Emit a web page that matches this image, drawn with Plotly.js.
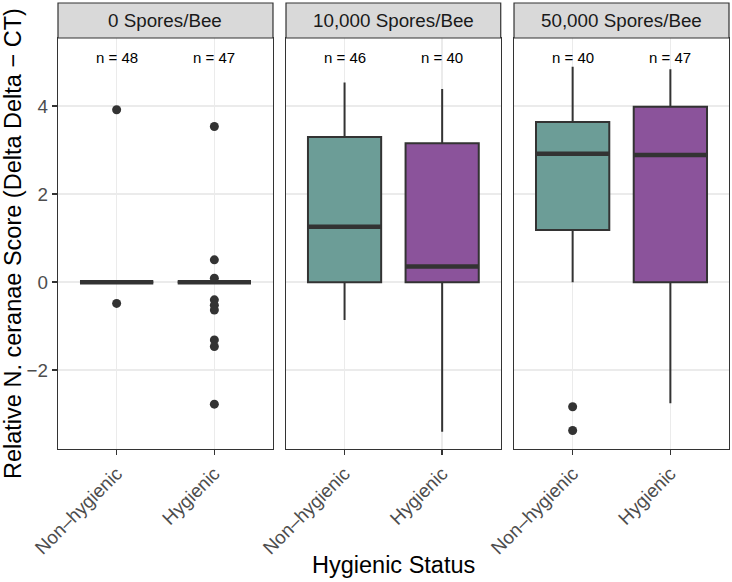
<!DOCTYPE html>
<html>
<head>
<meta charset="utf-8">
<script src="https://cdn.plot.ly/plotly-3.0.1.min.js"></script>
<style>
  html, body { margin: 0; padding: 0; background: #ffffff; }
  #chart { width: 732px; height: 582px; }
</style>
</head>
<body>
<div id="chart"></div>
<script>
// Facet labels (spore dose) and x categories (hygienic status)
const doses = ['0 Spores/Bee', '10,000 Spores/Bee', '50,000 Spores/Bee'];
const statuses = ['Non\u2013hygienic', 'Hygienic'];
const statusPos = [1, 2];

// Box summary statistics per facet, in [Non-hygienic, Hygienic] order
const q1 = [[0, 0], [0, 0], [1.19, 0]];
const medians = [[0, 0], [1.26, 0.36], [2.92, 2.89]];
const q3 = [[0, 0], [3.30, 3.16], [3.64, 3.99]];
const lowerWhisker = [[0, 0], [-0.86, -3.40], [0, -2.75]];
const upperWhisker = [[0, 0], [4.54, 4.39], [4.90, 4.84]];

// Outlying observations per facet and status
const outliers = [
  [[3.92, -0.48], [3.54, 0.51, 0.09, -0.40, -0.52, -0.63, -1.31, -1.46, -2.77]],
  [[], []],
  [[-2.83, -3.37], []]
];

// Sample sizes shown above each box
const sampleSizes = [[48, 47], [46, 40], [40, 47]];

const fills = ['#6C9D97', '#8B539B'];
const ink = '#333333';
const font = 'Liberation Sans, Arial, Helvetica, sans-serif';
const boxWidth = 0.75;
const labelY = 5.1;
const yRange = [-3.79, 5.552];

const domains = [[0, 0.3204], [0.3398, 0.6598], [0.6796, 1]];

const traces = [];
const annotations = [];
const shapes = [];
const layout = {
  width: 732, height: 582,
  margin: {l: 58, r: 3, t: 38, b: 133},
  paper_bgcolor: '#ffffff', plot_bgcolor: '#ffffff',
  showlegend: false,
  font: {family: font, color: '#4D4D4D'}
};

doses.forEach((dose, p) => {
  const sfx = p === 0 ? '' : String(p + 1);
  const xa = 'x' + sfx, ya = 'y' + sfx;

  layout['xaxis' + sfx] = {
    domain: domains[p], anchor: ya, range: [0.4, 2.6],
    tickmode: 'array', tickvals: statusPos, ticktext: statuses,
    tickangle: -45, ticks: 'outside', ticklen: 5, tickwidth: 1.6, tickcolor: ink,
    tickfont: {size: 18.8, color: '#4D4D4D', family: font},
    showgrid: true, gridcolor: '#EBEBEB', gridwidth: 1.6, zeroline: false,
    showline: true, mirror: true, linecolor: ink, linewidth: 1.2,
    fixedrange: true
  };
  layout['yaxis' + sfx] = {
    domain: [0, 1], anchor: xa, range: yRange,
    tickmode: 'array', tickvals: [-2, 0, 2, 4],
    ticks: p === 0 ? 'outside' : '', ticklen: 5, tickwidth: 1.6, tickcolor: ink,
    showticklabels: p === 0,
    tickfont: {size: 18.8, color: '#4D4D4D', family: font},
    showgrid: true, gridcolor: '#EBEBEB', gridwidth: 1.6, zeroline: false,
    showline: true, mirror: true, linecolor: ink, linewidth: 1.2,
    fixedrange: true
  };

  statusPos.forEach((pos, s) => {
    // box with whiskers
    traces.push({
      type: 'box', xaxis: xa, yaxis: ya,
      x: [pos], q1: [q1[p][s]], median: [medians[p][s]], q3: [q3[p][s]],
      lowerfence: [lowerWhisker[p][s]], upperfence: [upperWhisker[p][s]],
      width: boxWidth, whiskerwidth: 0, boxpoints: false,
      fillcolor: fills[s], line: {color: ink, width: 2},
      hoverinfo: 'skip'
    });
    // heavier median bar
    traces.push({
      type: 'scatter', mode: 'lines', xaxis: xa, yaxis: ya,
      x: [pos - boxWidth / 2, pos + boxWidth / 2],
      y: [medians[p][s], medians[p][s]],
      line: {color: ink, width: 4.5}, hoverinfo: 'skip'
    });
    // outliers
    if (outliers[p][s].length) {
      traces.push({
        type: 'scatter', mode: 'markers', xaxis: xa, yaxis: ya,
        x: outliers[p][s].map(() => pos), y: outliers[p][s],
        marker: {color: ink, size: 9}, hoverinfo: 'skip'
      });
    }
    // sample size label
    annotations.push({
      xref: xa, yref: ya, x: pos, y: labelY,
      text: 'n = ' + sampleSizes[p][s], showarrow: false,
      xanchor: 'center', yanchor: 'middle',
      font: {size: 15, color: '#000000', family: font}
    });
  });

  // facet strip
  shapes.push({
    type: 'rect', xref: xa + ' domain', yref: 'paper',
    x0: 0, x1: 1, y0: 1, y1: 1 + 35 / 411,
    fillcolor: '#D9D9D9', line: {color: ink, width: 1.2}, layer: 'above'
  });
  annotations.push({
    xref: xa + ' domain', yref: 'paper', x: 0.5, y: 1 + 17.5 / 411,
    text: dose, showarrow: false, xanchor: 'center', yanchor: 'middle',
    font: {size: 18.8, color: '#1A1A1A', family: font}
  });
});

// axis titles
annotations.push({
  xref: 'paper', yref: 'paper', x: 0, y: 0.5, xshift: -45.5,
  text: 'Relative N. ceranae Score (Delta Delta \u2212 CT)', textangle: -90,
  showarrow: false, xanchor: 'center', yanchor: 'middle',
  font: {size: 23.5, color: '#000000', family: font}
});
annotations.push({
  xref: 'x2 domain', yref: 'paper', x: 0.5, y: 0, yshift: -116,
  text: 'Hygienic Status', showarrow: false, xanchor: 'center', yanchor: 'middle',
  font: {size: 23.5, color: '#000000', family: font}
});

layout.shapes = shapes;
layout.annotations = annotations;

Plotly.newPlot('chart', traces, layout, {staticPlot: true, displayModeBar: false});
</script>
</body>
</html>
